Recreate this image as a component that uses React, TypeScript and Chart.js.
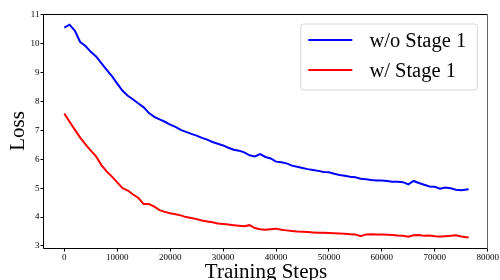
import React, { useEffect, useRef } from "react";
import { Chart, registerables } from "chart.js";

Chart.register(...registerables);

const steps = [
  0, 1000, 2000, 3000, 4000, 5000, 6000, 7000, 8000, 9000,
  10000, 11000, 12000, 13000, 14000, 15000, 16000, 17000, 18000, 19000,
  20000, 21000, 22000, 23000, 24000, 25000, 26000, 27000, 28000, 29000,
  30000, 31000, 32000, 33000, 34000, 35000, 36000, 37000, 38000, 39000,
  40000, 41000, 42000, 43000, 44000, 45000, 46000, 47000, 48000, 49000,
  50000, 51000, 52000, 53000, 54000, 55000, 56000, 57000, 58000, 59000,
  60000, 61000, 62000, 63000, 64000, 65000, 66000, 67000, 68000, 69000,
  70000, 71000, 72000, 73000, 74000, 75000, 76400,
];

const lossWithoutStage1 = [
  10.56, 10.66, 10.45, 10.06, 9.92, 9.72, 9.56, 9.33, 9.1, 8.88,
  8.62, 8.37, 8.2, 8.07, 7.93, 7.8, 7.6, 7.47, 7.38, 7.3,
  7.2, 7.12, 7.02, 6.95, 6.88, 6.82, 6.74, 6.68, 6.6, 6.54,
  6.48, 6.4, 6.33, 6.3, 6.24, 6.14, 6.1, 6.18, 6.08, 6.03,
  5.92, 5.9, 5.86, 5.78, 5.74, 5.7, 5.66, 5.63, 5.6, 5.56,
  5.55, 5.5, 5.46, 5.43, 5.4, 5.38, 5.33, 5.31, 5.28, 5.27,
  5.27, 5.25, 5.22, 5.22, 5.21, 5.13, 5.25, 5.18, 5.12, 5.06,
  5.05, 4.98, 5.02, 5.0, 4.95, 4.93, 4.96,
];

const lossWithStage1 = [
  7.58, 7.3, 7.02, 6.75, 6.52, 6.3, 6.1, 5.8, 5.58, 5.4,
  5.2, 5.0, 4.92, 4.78, 4.66, 4.45, 4.45, 4.36, 4.24, 4.18,
  4.13, 4.1, 4.06, 4.0, 3.97, 3.93, 3.88, 3.85, 3.82, 3.78,
  3.76, 3.74, 3.72, 3.7, 3.68, 3.72, 3.62, 3.58, 3.56, 3.58,
  3.6, 3.56, 3.54, 3.52, 3.5, 3.49, 3.48, 3.47, 3.46, 3.46,
  3.45, 3.44, 3.43, 3.42, 3.41, 3.4, 3.34, 3.4, 3.41, 3.4,
  3.4, 3.39, 3.38, 3.36, 3.35, 3.32, 3.37, 3.38, 3.35, 3.36,
  3.34, 3.33, 3.34, 3.35, 3.37, 3.33, 3.29,
];

const xTicks = [0, 10000, 20000, 30000, 40000, 50000, 60000, 70000, 80000];
const yTicks = [3, 4, 5, 6, 7, 8, 9, 10, 11];

const seriesLabels = ["w/o Stage 1", "w/ Stage 1"];
const seriesColors = ["#0000ff", "#ff0000"];

const xTitle = "Training Steps";
const yTitle = "Loss";

const SERIF = "'Liberation Serif', 'Times New Roman', serif";

const decorPlugin = {
  id: "decor",
  afterDatasetsDraw(chart: any) {
    const { ctx, chartArea } = chart;
    const { left, right, top, bottom } = chartArea;
    ctx.save();
    // frame
    ctx.lineWidth = 1;
    ctx.strokeStyle = "#000";
    ctx.beginPath();
    ctx.moveTo(left - 0.5, top + 0.5);
    ctx.lineTo(right, top + 0.5);
    ctx.moveTo(left - 0.5, top);
    ctx.lineTo(left - 0.5, bottom + 0.5);
    ctx.lineTo(right, bottom + 0.5);
    ctx.stroke();
    ctx.strokeStyle = "#666";
    ctx.beginPath();
    ctx.moveTo(right - 0.5, top);
    ctx.lineTo(right - 0.5, bottom + 1);
    ctx.stroke();

    // legend
    const bw = 176.5;
    const bh = 66;
    const bx = right - 10.7 - bw;
    const by = top + 10;
    ctx.beginPath();
    const r = 3;
    ctx.moveTo(bx + r, by);
    ctx.lineTo(bx + bw - r, by);
    ctx.arcTo(bx + bw, by, bx + bw, by + r, r);
    ctx.lineTo(bx + bw, by + bh - r);
    ctx.arcTo(bx + bw, by + bh, bx + bw - r, by + bh, r);
    ctx.lineTo(bx + r, by + bh);
    ctx.arcTo(bx, by + bh, bx, by + bh - r, r);
    ctx.lineTo(bx, by + r);
    ctx.arcTo(bx, by, bx + r, by, r);
    ctx.closePath();
    ctx.fillStyle = "rgba(255,255,255,0.8)";
    ctx.fill();
    ctx.strokeStyle = "#d6d6d6";
    ctx.lineWidth = 1;
    ctx.stroke();

    chart.data.datasets.forEach((ds: any, i: number) => {
      const y = by + 16 + i * 30;
      ctx.strokeStyle = ds.borderColor;
      ctx.lineWidth = 2;
      ctx.beginPath();
      ctx.moveTo(bx + 7.5, y);
      ctx.lineTo(bx + 51.5, y);
      ctx.stroke();
      ctx.fillStyle = "#000";
      ctx.font = `20.5px ${SERIF}`;
      ctx.textAlign = "left";
      ctx.textBaseline = "middle";
      ctx.fillText(ds.label, bx + 68.6, y + 1.5);
    });

    // axis titles
    ctx.fillStyle = "#000";
    ctx.font = `21px ${SERIF}`;
    ctx.textAlign = "center";
    ctx.textBaseline = "alphabetic";
    ctx.fillText(xTitle, (left + right) / 2, 278);
    ctx.save();
    ctx.translate(24, (top + bottom) / 2);
    ctx.rotate(-Math.PI / 2);
    ctx.fillText(yTitle, 0, 0);
    ctx.restore();
    ctx.restore();
  },
};

export default function App() {
  const ref = useRef<HTMLCanvasElement | null>(null);
  useEffect(() => {
    if (!ref.current) return;
    const chart = new Chart(ref.current, {
      type: "line",
      data: {
        datasets: [
          {
            label: seriesLabels[0],
            data: steps.map((s, i) => ({ x: s, y: lossWithoutStage1[i] })),
            borderColor: seriesColors[0],
            backgroundColor: seriesColors[0],
            borderWidth: 2,
            pointRadius: 0,
            tension: 0,
          },
          {
            label: seriesLabels[1],
            data: steps.map((s, i) => ({ x: s, y: lossWithStage1[i] })),
            borderColor: seriesColors[1],
            backgroundColor: seriesColors[1],
            borderWidth: 2,
            pointRadius: 0,
            tension: 0,
          },
        ],
      },
      options: {
        responsive: false,
        animation: false,
        layout: { padding: { top: 14, right: 12, left: 0, bottom: 0 } },
        plugins: { legend: { display: false }, tooltip: { enabled: false } },
        scales: {
          x: {
            type: "linear",
            min: -3840,
            max: 80060,
            afterBuildTicks: (s: any) => {
              s.ticks = xTicks.map((v) => ({ value: v }));
            },
            afterFit: (s: any) => {
              s.height = 32;
            },
            border: { display: false },
            grid: {
              drawOnChartArea: false,
              drawTicks: true,
              tickLength: 3.5,
              color: "#000",
              lineWidth: 1,
            },
            ticks: {
              autoSkip: false,
              maxRotation: 0,
              padding: 1,
              color: "#000",
              font: { family: SERIF, size: 9 },
              callback: (v: any) => String(v),
            },
          },
          y: {
            type: "linear",
            min: 2.93,
            max: 11.03,
            afterBuildTicks: (s: any) => {
              s.ticks = yTicks.map((v) => ({ value: v }));
            },
            afterFit: (s: any) => {
              s.width = 44;
            },
            border: { display: false },
            grid: {
              drawOnChartArea: false,
              drawTicks: true,
              tickLength: 3.5,
              color: "#000",
              lineWidth: 1,
            },
            ticks: {
              autoSkip: false,
              padding: 1,
              color: "#000",
              font: { family: SERIF, size: 9 },
              callback: (v: any) => String(v),
            },
          },
        },
      },
      plugins: [decorPlugin],
    });
    return () => chart.destroy();
  }, []);
  return (
    <div style={{ position: "fixed", left: 0, top: 0, width: 500, height: 280, background: "#fff" }}>
      <canvas ref={ref} width={500} height={280} />
    </div>
  );
}
